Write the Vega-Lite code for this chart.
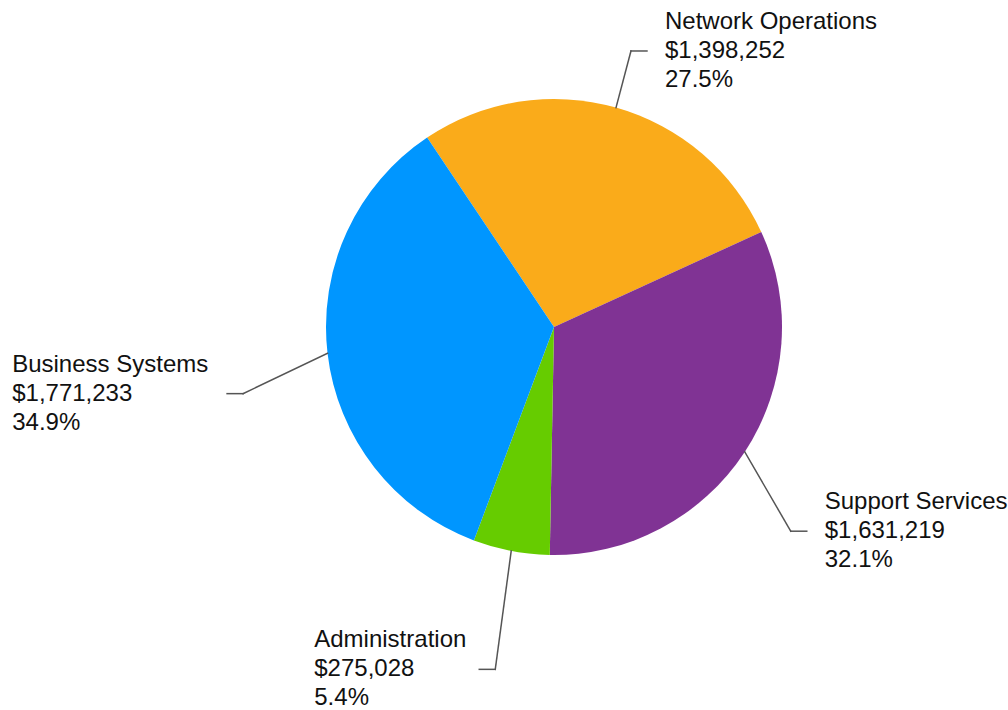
{
  "$schema": "https://vega.github.io/schema/vega-lite/v6.json",
  "width": 908,
  "height": 654,
  "autosize": {"type": "none"},
  "padding": {"left": 100, "top": 0, "right": 0, "bottom": 56},
  "background": "white",
  "config": {"view": {"stroke": null}, "font": "Liberation Sans"},
  "data": {
    "values": [
      {"category": "Network Operations", "value": 1398252},
      {"category": "Support Services", "value": 1631219},
      {"category": "Administration", "value": 275028},
      {"category": "Business Systems", "value": 1771233}
    ]
  },
  "transform": [
    {"window": [{"op": "row_number", "as": "i"}]},
    {"joinaggregate": [{"op": "sum", "field": "value", "as": "total"}]},
    {"window": [{"op": "sum", "field": "value", "as": "cum"}], "sort": [{"field": "i"}], "frame": [null, 0]},
    {"calculate": "-0.59 + 2*PI*(datum.cum - datum.value/2)/datum.total", "as": "ang"},
    {"calculate": "228*sin(datum.ang)", "as": "sx"},
    {"calculate": "-228*cos(datum.ang)", "as": "sy"},
    {"calculate": "sin(datum.ang) >= 0 ? 1 : -1", "as": "side"},
    {"calculate": "(datum.side > 0 ? 283 : 313)*sin(datum.ang)", "as": "ex"},
    {"calculate": "30 - 318*cos(datum.ang)", "as": "ey"},
    {"calculate": "datum.ex + 16*datum.side", "as": "hx"},
    {"calculate": "length(datum.category) - length(replace(datum.category, regexp('[iljtfr ]', 'g'), ''))", "as": "narrow"},
    {"calculate": "length(datum.category) - length(replace(datum.category, regexp('[A-Z]', 'g'), ''))", "as": "upper"},
    {"calculate": "13.2*length(datum.category) - 6.7*datum.narrow + 3.4*datum.upper", "as": "tw"},
    {"calculate": "datum.side > 0 ? datum.hx + 18 : datum.hx - 17 - datum.tw", "as": "tx"},
    {"calculate": "datum.category + '\\n$' + format(datum.value, ',') + '\\n' + format(datum.value/datum.total, '.1%')", "as": "label"}
  ],
  "layer": [
    {
      "mark": {"type": "arc", "outerRadius": 228},
      "encoding": {
        "theta": {"field": "value", "type": "quantitative", "stack": true, "scale": {"range": [-0.59, 5.6932]}},
        "order": {"field": "i", "type": "quantitative"},
        "color": {
          "field": "category",
          "type": "nominal",
          "scale": {
            "domain": ["Network Operations", "Support Services", "Administration", "Business Systems"],
            "range": ["#FAAB1A", "#803394", "#66CC00", "#0096FF"]
          },
          "legend": null
        }
      }
    },
    {
      "mark": {"type": "rule", "stroke": "#555555", "strokeWidth": 1.5, "strokeCap": "square"},
      "encoding": {
        "x": {"field": "sx", "type": "quantitative", "scale": {"domain": [-454, 454], "nice": false, "zero": false}, "axis": null},
        "y": {"field": "sy", "type": "quantitative", "scale": {"domain": [-327, 327], "nice": false, "zero": false, "reverse": true}, "axis": null},
        "x2": {"field": "ex"},
        "y2": {"field": "ey"}
      }
    },
    {
      "mark": {"type": "rule", "stroke": "#555555", "strokeWidth": 1.5, "strokeCap": "square"},
      "encoding": {
        "x": {"field": "ex", "type": "quantitative"},
        "y": {"field": "ey", "type": "quantitative"},
        "x2": {"field": "hx"}
      }
    },
    {
      "mark": {"type": "text", "align": "left", "baseline": "middle", "fontSize": 24, "lineHeight": 29, "dy": -29, "lineBreak": "\n", "color": "#111111"},
      "encoding": {
        "x": {"field": "tx", "type": "quantitative"},
        "y": {"field": "ey", "type": "quantitative"},
        "text": {"field": "label", "type": "nominal"}
      }
    }
  ]
}
